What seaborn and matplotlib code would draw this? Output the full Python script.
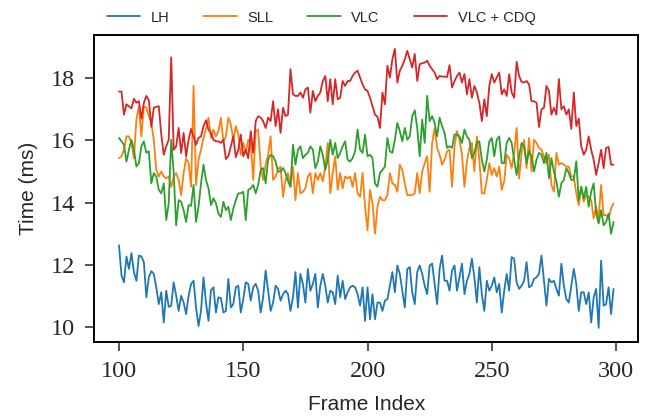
import matplotlib
matplotlib.use('Agg')
import matplotlib.pyplot as plt
import numpy as np
import pandas as pd
import seaborn as sns

# Per-frame timings (frames 100..299)
frames = list(range(100, 300))

lh = [12.63, 11.66, 11.44, 12.27, 11.87, 12.38, 11.77, 11.49, 12.30, 12.27,
      12.09, 10.96, 11.60, 11.80, 11.71, 11.28, 10.74, 11.12, 10.15, 11.17,
      10.65, 10.69, 11.44, 11.01, 10.52, 11.01, 10.79, 10.42, 11.01, 11.39,
      11.49, 10.63, 10.04, 10.52, 11.60, 10.79, 10.20, 11.19, 11.28, 10.47,
      10.96, 10.93, 10.47, 10.52, 11.55, 10.63, 10.74, 11.28, 11.33, 10.47,
      10.90, 11.44, 11.39, 10.85, 11.28, 11.39, 11.17, 10.47, 10.96, 11.82,
      11.17, 10.52, 10.79, 11.33, 11.23, 10.85, 11.06, 11.17, 11.06, 10.52,
      10.96, 11.77, 10.63, 11.71, 11.39, 10.79, 11.87, 11.17, 11.39, 11.71,
      10.63, 11.33, 11.71, 11.33, 10.79, 11.17, 11.12, 10.74, 11.66, 10.96,
      11.49, 10.90, 11.12, 11.28, 11.33, 11.28, 11.06, 10.69, 11.28, 10.20,
      11.28, 10.25, 11.06, 10.25, 10.79, 10.79, 10.52, 10.85, 10.90, 11.33,
      11.77, 11.12, 11.98, 11.71, 11.17, 10.63, 11.87, 11.93, 11.12, 10.74,
      11.77, 11.98, 11.71, 11.33, 11.06, 11.98, 12.04, 11.39, 10.74, 11.87,
      12.30, 11.49, 11.49, 11.17, 11.82, 11.98, 11.17, 11.60, 12.04, 11.06,
      11.49, 11.71, 12.20, 11.60, 10.79, 11.93, 11.06, 10.52, 11.49, 11.17,
      11.33, 11.60, 11.12, 11.39, 10.47, 11.17, 11.71, 11.17, 12.25, 12.20,
      11.44, 11.23, 11.33, 11.49, 12.09, 11.28, 11.33, 11.55, 11.60, 11.71,
      12.30, 11.49, 10.69, 11.55, 11.44, 11.49, 11.23, 11.01, 12.04, 11.33,
      10.90, 10.79, 11.33, 11.87, 11.39, 10.52, 11.12, 11.12, 10.74, 11.12,
      10.15, 10.96, 11.23, 9.98, 12.14, 10.69, 10.74, 11.28, 10.42, 11.23]

sll = [15.43, 15.49, 15.70, 16.13, 16.13, 15.92, 15.43, 16.67, 17.10, 16.13,
       17.10, 17.05, 16.78, 16.56, 16.02, 15.05, 14.84, 15.00, 14.84, 14.78,
       14.84, 14.51, 14.84, 14.95, 14.73, 14.24, 14.95, 15.43, 15.27, 14.51,
       17.75, 14.57, 15.38, 15.70, 16.08, 16.37, 16.73, 16.08, 16.35, 16.13,
       16.30, 16.73, 15.97, 16.13, 16.73, 16.51, 16.02, 16.46, 16.19, 15.54,
       15.92, 15.60, 16.02, 15.92, 14.73, 16.30, 16.35, 15.16, 14.73, 15.22,
       15.54, 16.13, 14.73, 14.84, 15.05, 15.16, 14.19, 14.73, 14.95, 14.51,
       15.16, 14.08, 14.95, 14.30, 14.35, 14.46, 14.84, 14.95, 14.30, 14.95,
       14.73, 14.95, 14.68, 15.16, 15.92, 14.30, 14.95, 15.49, 14.41, 14.95,
       14.46, 14.84, 14.78, 14.84, 14.51, 14.95, 14.30, 14.19, 14.95, 13.87,
       13.11, 14.41, 13.98, 13.00, 13.87, 14.19, 14.08, 14.08, 14.24, 14.95,
       14.62, 14.57, 14.35, 15.22, 15.05, 14.62, 14.24, 14.24, 14.24, 14.30,
       14.95, 14.30, 15.00, 15.27, 15.49, 14.35, 15.92, 16.40, 15.76, 15.54,
       15.22, 15.38, 15.65, 15.70, 14.51, 15.81, 16.30, 16.02, 15.54, 14.51,
       15.32, 15.76, 15.92, 15.00, 16.13, 15.38, 14.30, 14.30, 14.73, 15.27,
       14.89, 15.11, 14.84, 15.16, 14.41, 14.68, 15.54, 15.43, 15.11, 15.60,
       16.40, 14.78, 15.60, 16.02, 15.11, 16.08, 15.00, 16.02, 15.92, 15.76,
       15.70, 15.49, 15.27, 15.54, 14.57, 14.35, 15.60, 15.22, 15.27, 15.22,
       15.16, 15.16, 14.84, 14.84, 14.30, 13.92, 14.51, 14.03, 14.24, 14.19,
       14.08, 13.49, 13.87, 13.49, 14.57, 13.60, 13.60, 13.49, 13.81, 13.98]

vlc = [16.08, 15.97, 15.86, 15.32, 15.70, 16.02, 15.70, 15.16, 15.27, 15.81,
       15.97, 15.60, 15.65, 14.62, 14.95, 14.84, 14.41, 14.30, 14.62, 13.44,
       13.98, 16.02, 14.95, 13.27, 14.08, 14.03, 13.76, 13.38, 13.92, 13.90,
       14.57, 13.38, 13.87, 14.62, 15.22, 14.73, 14.46, 13.92, 14.14, 13.98,
       13.65, 13.54, 14.03, 13.76, 13.87, 13.44, 13.81, 14.08, 14.30, 14.30,
       14.35, 13.44, 14.41, 14.46, 14.57, 14.30, 14.57, 15.05, 15.11, 14.62,
       15.38, 15.54, 15.49, 15.32, 15.00, 15.00, 15.11, 14.95, 14.68, 14.51,
       15.86, 15.22, 15.70, 15.81, 15.43, 15.54, 15.60, 15.81, 15.70, 15.11,
       15.32, 15.81, 15.54, 15.05, 15.38, 16.02, 15.54, 15.92, 15.43, 15.60,
       15.81, 15.97, 15.38, 15.32, 15.43, 15.65, 16.35, 15.70, 15.60, 16.19,
       15.49, 15.54, 15.43, 14.62, 14.51, 14.95, 15.05, 15.16, 16.08, 15.65,
       15.60, 16.02, 16.56, 16.30, 15.97, 16.40, 16.02, 16.13, 16.78, 16.97,
       16.40, 15.49, 16.67, 15.92, 17.43, 16.62, 16.78, 16.56, 16.13, 16.73,
       16.46, 16.24, 15.76, 15.81, 15.76, 16.19, 16.19, 16.13, 15.92, 16.35,
       16.13, 16.02, 15.43, 15.60, 15.92, 15.97, 15.38, 15.00, 15.38, 15.97,
       16.08, 15.49, 16.02, 16.13, 15.27, 15.27, 15.92, 16.08, 15.92, 15.38,
       14.89, 15.49, 15.92, 15.81, 15.27, 15.65, 15.49, 15.00, 15.38, 15.60,
       15.54, 15.27, 15.60, 14.78, 15.43, 15.00, 14.68, 14.19, 14.62, 14.73,
       15.11, 14.95, 14.73, 14.73, 15.33, 14.08, 14.51, 14.14, 14.51, 13.87,
       14.35, 14.62, 13.65, 13.33, 13.76, 13.27, 13.38, 13.65, 13.00, 13.38]

vlc_cdq = [17.57, 17.57, 16.83, 17.16, 17.10, 17.03, 17.34, 17.21, 17.26, 16.70,
           17.21, 17.43, 17.29, 16.44, 17.05, 17.08, 17.10, 16.20, 15.54, 15.81,
           16.02, 18.67, 15.70, 15.81, 16.40, 15.59, 16.24, 15.49, 16.02, 16.37,
           16.13, 15.86, 16.08, 16.13, 16.46, 16.65, 16.35, 16.24, 16.02, 15.97,
           15.97, 15.92, 16.02, 15.40, 15.49, 15.81, 16.13, 15.46, 15.70, 16.19,
           15.49, 15.70, 15.43, 16.30, 15.60, 16.62, 16.78, 16.73, 16.62, 16.40,
           16.73, 16.62, 17.26, 16.46, 17.00, 16.24, 17.05, 16.78, 16.83, 18.29,
           17.48, 17.43, 17.43, 17.54, 17.37, 17.64, 17.70, 16.89, 17.59, 17.26,
           17.43, 17.54, 17.91, 18.07, 17.26, 17.97, 17.16, 17.97, 17.32, 17.37,
           17.91, 17.75, 17.91, 17.91, 18.07, 18.18, 18.24, 18.02, 17.80, 17.64,
           17.59, 17.37, 17.10, 16.83, 16.76, 16.40, 17.54, 17.16, 18.40, 18.02,
           18.61, 18.94, 17.86, 18.24, 18.40, 18.61, 18.88, 18.61, 18.34, 18.78,
           17.91, 18.45, 18.48, 18.50, 18.56, 18.40, 18.29, 18.18, 17.97, 18.07,
           18.05, 18.05, 18.04, 18.42, 17.70, 17.91, 18.07, 18.18, 17.86, 18.13,
           17.48, 17.97, 17.37, 17.75, 17.54, 17.21, 16.62, 17.32, 16.78, 17.75,
           18.13, 17.86, 18.02, 18.18, 17.48, 17.64, 17.43, 18.13, 17.54, 17.37,
           18.53, 18.07, 17.88, 17.86, 17.91, 17.80, 17.26, 17.26, 17.21, 16.43,
           17.00, 17.05, 17.75, 17.59, 16.83, 17.05, 16.83, 17.97, 17.00, 17.10,
           16.83, 17.00, 16.37, 17.54, 16.46, 16.70, 15.81, 15.54, 15.70, 16.13,
           15.70, 15.38, 14.89, 15.27, 15.70, 15.11, 15.76, 15.79, 15.22, 15.22]

methods = ['LH', 'SLL', 'VLC', 'VLC + CDQ']
series = [lh, sll, vlc, vlc_cdq]

df = pd.DataFrame({
    'frame': frames * len(methods),
    'time': [v for s in series for v in s],
    'method': [m for m, s in zip(methods, series) for _ in s],
})

sns.set_style('ticks')
# serif (Times-like) for the tick numbers, sans for labels and legend
plt.rcParams['font.family'] = ['Liberation Serif', 'DejaVu Serif']
sans = ['Liberation Sans', 'DejaVu Sans']

fig = plt.figure(figsize=(6.48, 4.19), dpi=100)
ax = fig.add_axes([0.1455, 0.1845, 0.8395, 0.732])

sns.lineplot(data=df, x='frame', y='time', hue='method', hue_order=methods,
             palette=sns.color_palette('tab10', 4), linewidth=1.3, ax=ax)

ax.set_xticks([100, 150, 200, 250, 300])
ax.set_yticks([10, 12, 14, 16, 18])
ax.set_xlabel('Frame Index', fontsize=15, family=sans, labelpad=9)
ax.set_ylabel('Time (ms)', fontsize=15, family=sans, labelpad=9)
ax.tick_params(axis='both', length=6.5, width=1.1, labelsize=17.5,
               direction='out', pad=7.5)
for sp in ax.spines.values():
    sp.set_linewidth(1.4)
    sp.set_color('black')

ax.legend(loc='lower left', bbox_to_anchor=(0.012, 1.015), ncol=4,
          frameon=False, prop={'family': sans, 'size': 10.5},
          handlelength=2.3, handletextpad=0.7, columnspacing=2.35,
          borderaxespad=0.0, borderpad=0.4)

fig.savefig('out.png', dpi=100)
